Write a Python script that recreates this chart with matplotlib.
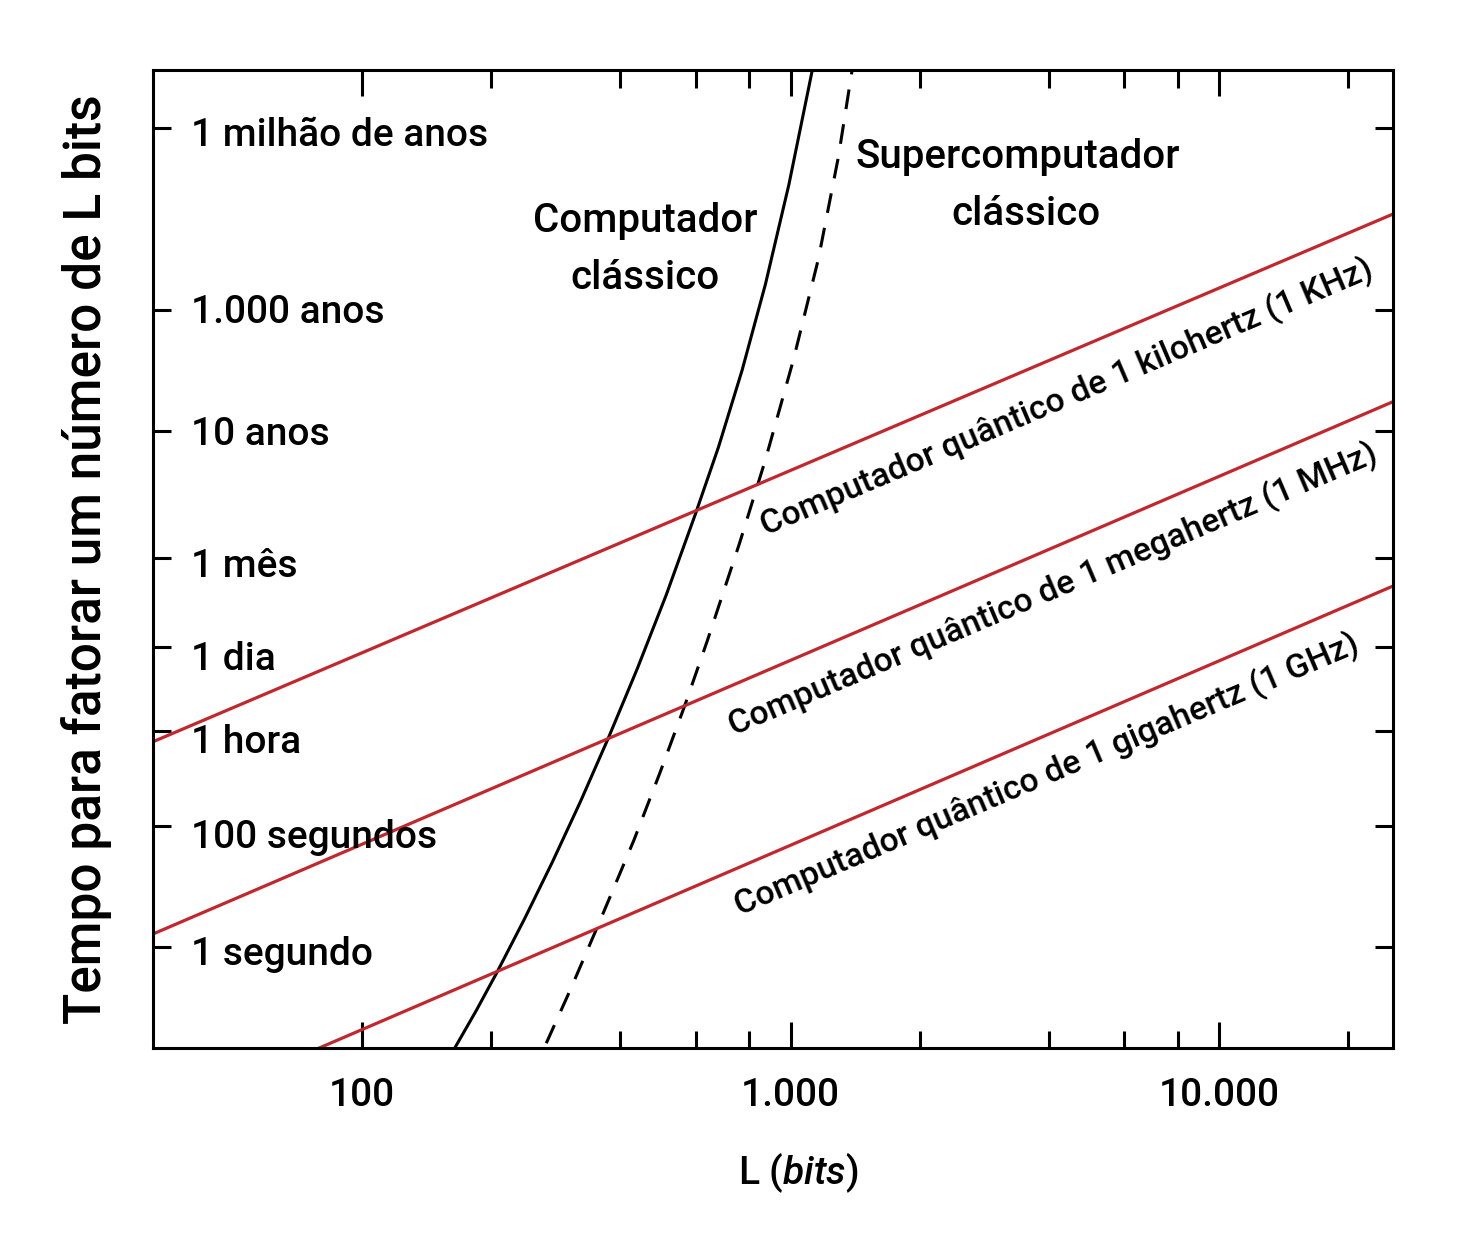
import matplotlib
matplotlib.use("Agg")
import matplotlib.pyplot as plt
from matplotlib.ticker import FixedLocator, FixedFormatter, NullFormatter, NullLocator

# eixo x: L (bits)
x_major = [100, 1000, 10000]
x_major_labels = ["100", "1.000", "10.000"]
x_minor = [200, 400, 600, 800, 2000, 4000, 6000, 8000, 20000]

# eixo y: tempo em segundos
y_ticks = [1, 100, 3600, 86400, 2.592e6, 3.156e8, 3.156e10, 3.156e13]
y_names = ["1 segundo", "100 segundos", "1 hora", "1 dia", "1 mês",
           "10 anos", "1.000 anos", "1 milhão de anos"]
y_name_pos = [0.0849, 0.2045, 0.3016, 0.3865, 0.4816, 0.6166, 0.7413, 0.9223]

# computador clássico
classic_L = [165.0, 184.5, 206.0, 239.4, 278.2, 323.2, 375.5, 438.6, 512.4,
             598.5, 678.9, 770.3, 873.7, 991.1, 1124]
classic_t = [0.0225, 0.0889, 0.373, 2.92, 25.4, 248, 2770, 3.83e4, 6.28e5,
             1.31e7, 1.73e8, 3.15e9, 8.34e10, 3.66e12, 2.82e14]

# supercomputador clássico
super_L = [269, 306, 357, 431, 495, 565, 640, 760, 873, 1015, 1161, 1293, 1392]
super_t = [0.026, 0.196, 2.46, 58, 728, 9100, 1.14e5, 4.48e6, 1.05e8, 4.69e9,
           2.16e11, 1.04e13, 2.81e14]

# computadores quânticos (retas)
khz_L = [32.5, 25470]
khz_t = [2410, 1.19e12]
mhz_L = [32.5, 25470]
mhz_t = [1.64, 9.64e8]
ghz_L = [79.4, 25470]
ghz_t = [0.0217, 8.86e5]

RED = "#c1272d"

plt.rcParams["font.family"] = ["Roboto", "DejaVu Sans"]
plt.rcParams["font.weight"] = 500
plt.rcParams["axes.labelweight"] = 500
plt.rcParams["mathtext.fontset"] = "custom"
plt.rcParams["mathtext.rm"] = "Roboto:medium"
plt.rcParams["mathtext.it"] = "Roboto:italic:medium"

fig = plt.figure(figsize=(14.57, 12.38), dpi=100)
ax = fig.add_axes([153 / 1457, 190 / 1238, 1240 / 1457, 978 / 1238])
ax.set_xscale("log")
ax.set_yscale("log")

ax.plot(classic_L, classic_t, color="black", lw=2.2)
ax.plot(super_L, super_t, color="black", lw=2.2, linestyle=(0, (6.5, 5)))
ax.plot(khz_L, khz_t, color=RED, lw=2.3)
ax.plot(mhz_L, mhz_t, color=RED, lw=2.3)
ax.plot(ghz_L, ghz_t, color=RED, lw=2.3)

ax.set_xlim(32.5, 25470)
ax.set_ylim(0.0217, 2.81e14)

ax.xaxis.set_major_locator(FixedLocator(x_major))
ax.xaxis.set_major_formatter(FixedFormatter(x_major_labels))
ax.xaxis.set_minor_locator(FixedLocator(x_minor))
ax.xaxis.set_minor_formatter(NullFormatter())
ax.yaxis.set_major_locator(FixedLocator(y_ticks))
ax.yaxis.set_major_formatter(NullFormatter())
ax.yaxis.set_minor_locator(NullLocator())

ax.tick_params(axis="x", which="major", direction="in", length=19, width=2.2,
               top=True, bottom=True, labelsize=28, pad=21)
ax.tick_params(axis="x", which="minor", direction="in", length=12.6, width=2.2,
               top=True, bottom=True)
ax.tick_params(axis="y", which="major", direction="in", length=13, width=2.2,
               left=True, right=True)
for sp in ax.spines.values():
    sp.set_linewidth(2.2)

# rótulos de tempo dentro do eixo
for name, yp in zip(y_names, y_name_pos):
    ax.text(0.0306, yp, name, transform=ax.transAxes, ha="left", va="baseline",
            fontsize=28)

ax.text(0.3968, 0.8347, "Computador", transform=ax.transAxes, ha="center",
        va="baseline", fontsize=29)
ax.text(0.3968, 0.7758, "clássico", transform=ax.transAxes, ha="center",
        va="baseline", fontsize=29)
ax.text(0.6976, 0.8998, "Supercomputador", transform=ax.transAxes, ha="center",
        va="baseline", fontsize=29)
ax.text(0.7040, 0.8415, "clássico", transform=ax.transAxes, ha="center",
        va="baseline", fontsize=29)

ang = 23.05
ax.text(0.7371, 0.6646, "Computador quântico de 1 kilohertz (1 KHz)",
        transform=ax.transAxes, rotation=ang, rotation_mode="anchor",
        ha="center", va="center", fontsize=24.3)
ax.text(0.7258, 0.4683, "Computador quântico de 1 megahertz (1 MHz)",
        transform=ax.transAxes, rotation=ang, rotation_mode="anchor",
        ha="center", va="center", fontsize=24.3)
ax.text(0.7210, 0.2791, "Computador quântico de 1 gigahertz (1 GHz)",
        transform=ax.transAxes, rotation=ang, rotation_mode="anchor",
        ha="center", va="center", fontsize=24.3)

ax.set_xlabel(r"L ($\mathit{bits}$)", fontsize=28)
ax.xaxis.set_label_coords(0.52, -0.1043)
ax.set_ylabel("Tempo para fatorar um número de L bits", fontsize=37)
ax.yaxis.set_label_coords(-0.0331, 0.5)

fig.savefig("out.png", dpi=100)
